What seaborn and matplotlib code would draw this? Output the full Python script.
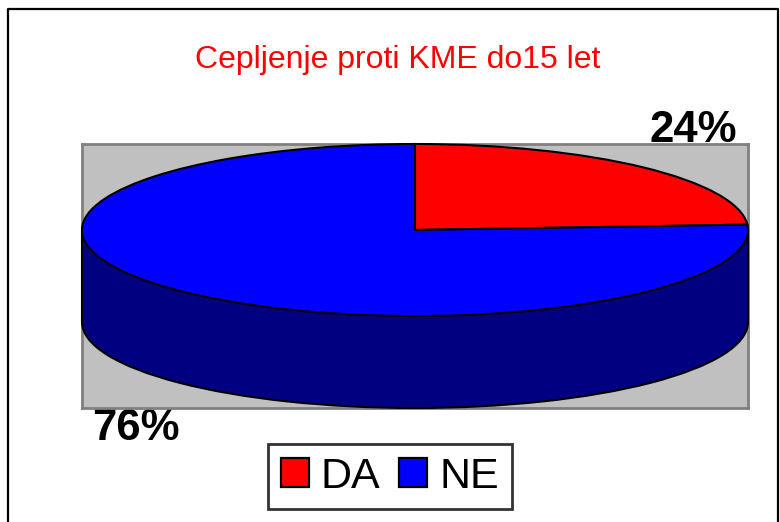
import matplotlib
matplotlib.use("Agg")
import matplotlib.pyplot as plt
from matplotlib.patches import Rectangle
import seaborn as sns

sns.set_theme(style="white")
plt.rcParams['font.family'] = ['Liberation Sans', 'DejaVu Sans']
plt.rcParams['text.color'] = 'black'

title = "Cepljenje proti KME do15 let"
categories = ["DA", "NE"]
values = [24, 76]
labels = ["24%", "76%"]
top_colors = ["#FF0000", "#0000FF"]
side_color = "#000080"

W, H = 780, 522
fig = plt.figure(figsize=(W / 100, H / 100), dpi=100)
bg = fig.add_axes([0, 0, 1, 1])
bg.set_xlim(0, W); bg.set_ylim(H, 0); bg.axis("off")
bg.plot([8, 8, 777.5, 777.5], [522, 8.5, 8.5, 522], color="black", lw=1.6, solid_capstyle="butt")

# plot area in pixels
x0, x1, y0, y1 = 82, 748, 144, 408
ax = fig.add_axes([x0 / W, 1 - y1 / H, (x1 - x0) / W, (y1 - y0) / H])
depth = 92 / 86
edge = 1.5
ax.set_facecolor("#C0C0C0")
side, _ = ax.pie([sum(values)], colors=[side_color], startangle=90, counterclock=False,
                 center=(0, -depth), radius=1,
                 wedgeprops=dict(edgecolor="black", linewidth=edge, zorder=2), frame=True)
for w in side:
    w.set_clip_on(False)
ax.add_patch(Rectangle((-1, -depth), 2, depth, facecolor=side_color, edgecolor="none", zorder=2.5))
ax.plot([-1, -1], [0, -depth], color="black", lw=edge, zorder=3, clip_on=False)
ax.plot([1, 1], [0, -depth], color="black", lw=edge, zorder=3, clip_on=False)
wedges, _ = ax.pie(values, colors=top_colors, startangle=90, counterclock=False,
                   center=(0, 0), radius=1, wedgeprops=dict(edgecolor="black", linewidth=edge, zorder=4), frame=True)
for w in wedges:
    w.set_clip_on(False)
ax.set_aspect("auto")
ax.set_xlim(-1, 1)
ax.set_ylim(-1 - depth, 1)
ax.set_xticks([]); ax.set_yticks([])
for s in ax.spines.values():
    s.set_visible(True); s.set_color("#808080"); s.set_linewidth(2); s.set_zorder(0.5)

fig.text(398 / W, 1 - 60 / H, title, color="#FF0000", fontsize=23, ha="center", va="center")
fig.text(693 / W, 1 - 130.5 / H, labels[0], color="black", fontsize=31.5, fontweight="bold", ha="center", va="center", zorder=-1)
fig.text(136 / W, 1 - 429 / H, labels[1], color="black", fontsize=31.5, fontweight="bold", ha="center", va="center", zorder=-1)

leg = fig.legend(wedges, categories, ncol=2, loc="center", bbox_to_anchor=(390 / W, 1 - 476.5 / H),
                 prop={"size": 31}, frameon=True, fancybox=False, edgecolor="black", facecolor="white",
                 handlelength=0.65, handleheight=0.65, handletextpad=0.28, columnspacing=0.44, borderpad=0.3,
                 borderaxespad=0)
leg.get_frame().set_linewidth(2)
for h in leg.legend_handles:
    h.set_edgecolor("black"); h.set_linewidth(1.6)
fig.savefig("out.png", dpi=100, facecolor="white")
